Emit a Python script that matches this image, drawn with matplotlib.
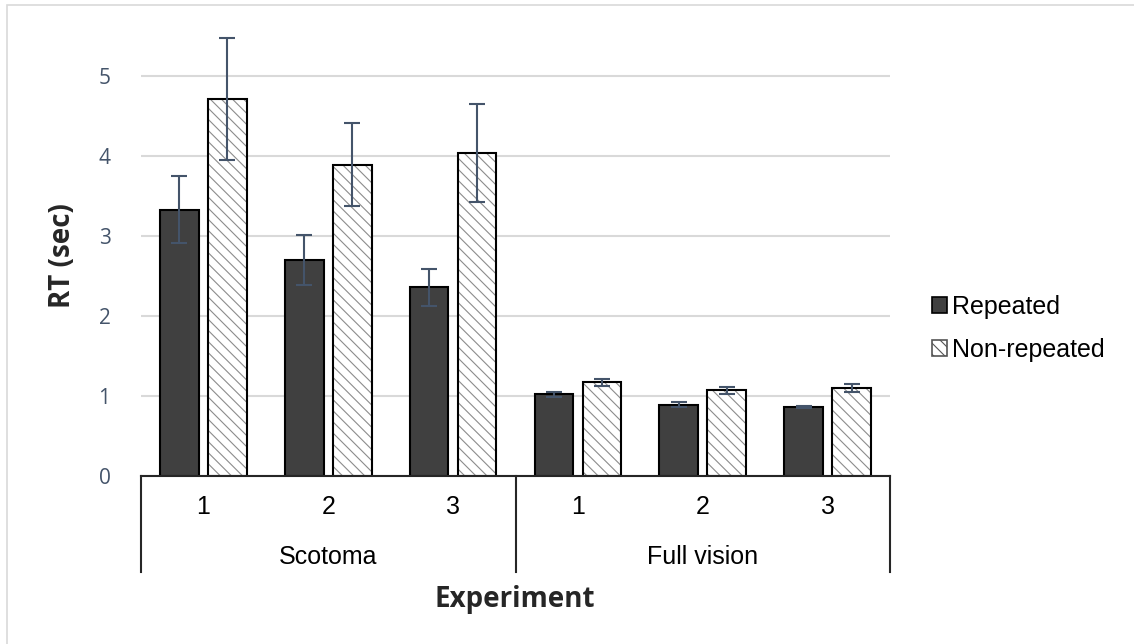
import numpy as np
import matplotlib
matplotlib.use('Agg')
import matplotlib.pyplot as plt
from matplotlib.patches import Patch, Rectangle

# data
exp_labels = ['1', '2', '3', '1', '2', '3']
groups = ['Scotoma', 'Full vision']
group_size = 3
repeated = [3.33, 2.70, 2.36, 1.02, 0.89, 0.86]
repeated_err = [0.42, 0.31, 0.23, 0.035, 0.03, 0.015]
nonrepeated = [4.71, 3.89, 4.04, 1.17, 1.07, 1.10]
nonrepeated_err = [0.76, 0.52, 0.61, 0.045, 0.04, 0.045]
yticks = [0, 1, 2, 3, 4, 5]

plt.rcParams['hatch.linewidth'] = 0.8

W, H = 1134, 644
fig = plt.figure(figsize=(W / 100, H / 100), dpi=100)
ax = fig.add_axes([141 / W, 1 - 476 / H, (890 - 141) / W, (476 - 36) / H])

x = np.arange(len(exp_labels))
bw = 0.31
off = 0.192
ecol = '#44546A'

ax.bar(x - off, repeated, bw, color='#404040', edgecolor='black', lw=1.5, zorder=2)
# hatched bars: hatch drawn in grey, outline in black on top
ax.bar(x + off, nonrepeated, bw, color='white', edgecolor='#8c8c8c', lw=0,
       hatch='\\\\\\', zorder=2)
ax.bar(x + off, nonrepeated, bw, fill=False, edgecolor='black', lw=1.5, zorder=3)
ax.errorbar(x - off, repeated, yerr=repeated_err, fmt='none', ecolor=ecol,
            elinewidth=1.5, capsize=6, capthick=1.5, zorder=4)
ax.errorbar(x + off, nonrepeated, yerr=nonrepeated_err, fmt='none', ecolor=ecol,
            elinewidth=1.5, capsize=6, capthick=1.5, zorder=4)

ax.set_xlim(-0.5, len(exp_labels) - 0.5)
ax.set_ylim(0, 5.5)
ax.set_yticks(yticks)
ax.tick_params(axis='y', length=0, pad=22, labelcolor=ecol, labelsize=15)
for t in ax.get_yticklabels():
    t.set_family('Open Sans')
ax.set_xticks([])
ax.grid(axis='y', color='#d9d9d9', lw=1.5, zorder=0)
for s in ['left', 'right', 'top']:
    ax.spines[s].set_visible(False)
ax.spines['bottom'].set_color('#262626')
ax.spines['bottom'].set_linewidth(1.5)
ax.spines['bottom'].set_zorder(5)

# multi-level category axis
tr = ax.get_xaxis_transform()
for b in range(len(groups) + 1):
    xb = b * group_size - 0.5
    ax.plot([xb, xb], [0, -0.218], transform=tr, color='#262626', lw=1.5,
            clip_on=False)
for i, lab in enumerate(exp_labels):
    ax.text(x[i], -0.0705, lab, transform=tr, ha='center', va='center',
            fontsize=18, family='Liberation Sans')
for g, name in enumerate(groups):
    ax.text(g * group_size + (group_size - 1) / 2, -0.184, name, transform=tr,
            ha='center', va='center', fontsize=18, family='Liberation Sans')

fig.text(515 / W, 1 - 600 / H, 'Experiment', ha='center', va='center',
         fontsize=20, fontweight='bold', family='Open Sans', color='#262626')
fig.text(62 / W, 1 - 256 / H, 'RT (sec)', ha='center', va='center', rotation=90,
         fontsize=20, fontweight='bold', family='Open Sans', color='#262626')

handles = [Patch(facecolor='#404040', edgecolor='black', lw=1.2),
           Patch(facecolor='white', edgecolor='#555555', hatch='\\\\\\', lw=1.2)]
ax.legend(handles, ['Repeated', 'Non-repeated'], loc='center left',
          bbox_to_anchor=(932 / W, 1 - 328.5 / H), bbox_transform=fig.transFigure,
          frameon=False, borderpad=0, borderaxespad=0, handlelength=0.6,
          handleheight=0.6, handletextpad=0.2, labelspacing=0.75,
          prop={'family': 'Liberation Sans', 'size': 18})

# chart area border
fig.patches.append(Rectangle((7 / W, -0.5), 2, 1.5 - 5 / H, transform=fig.transFigure,
                             fill=False, edgecolor='#d9d9d9', lw=1.2))

fig.savefig('out.png', dpi=100)
